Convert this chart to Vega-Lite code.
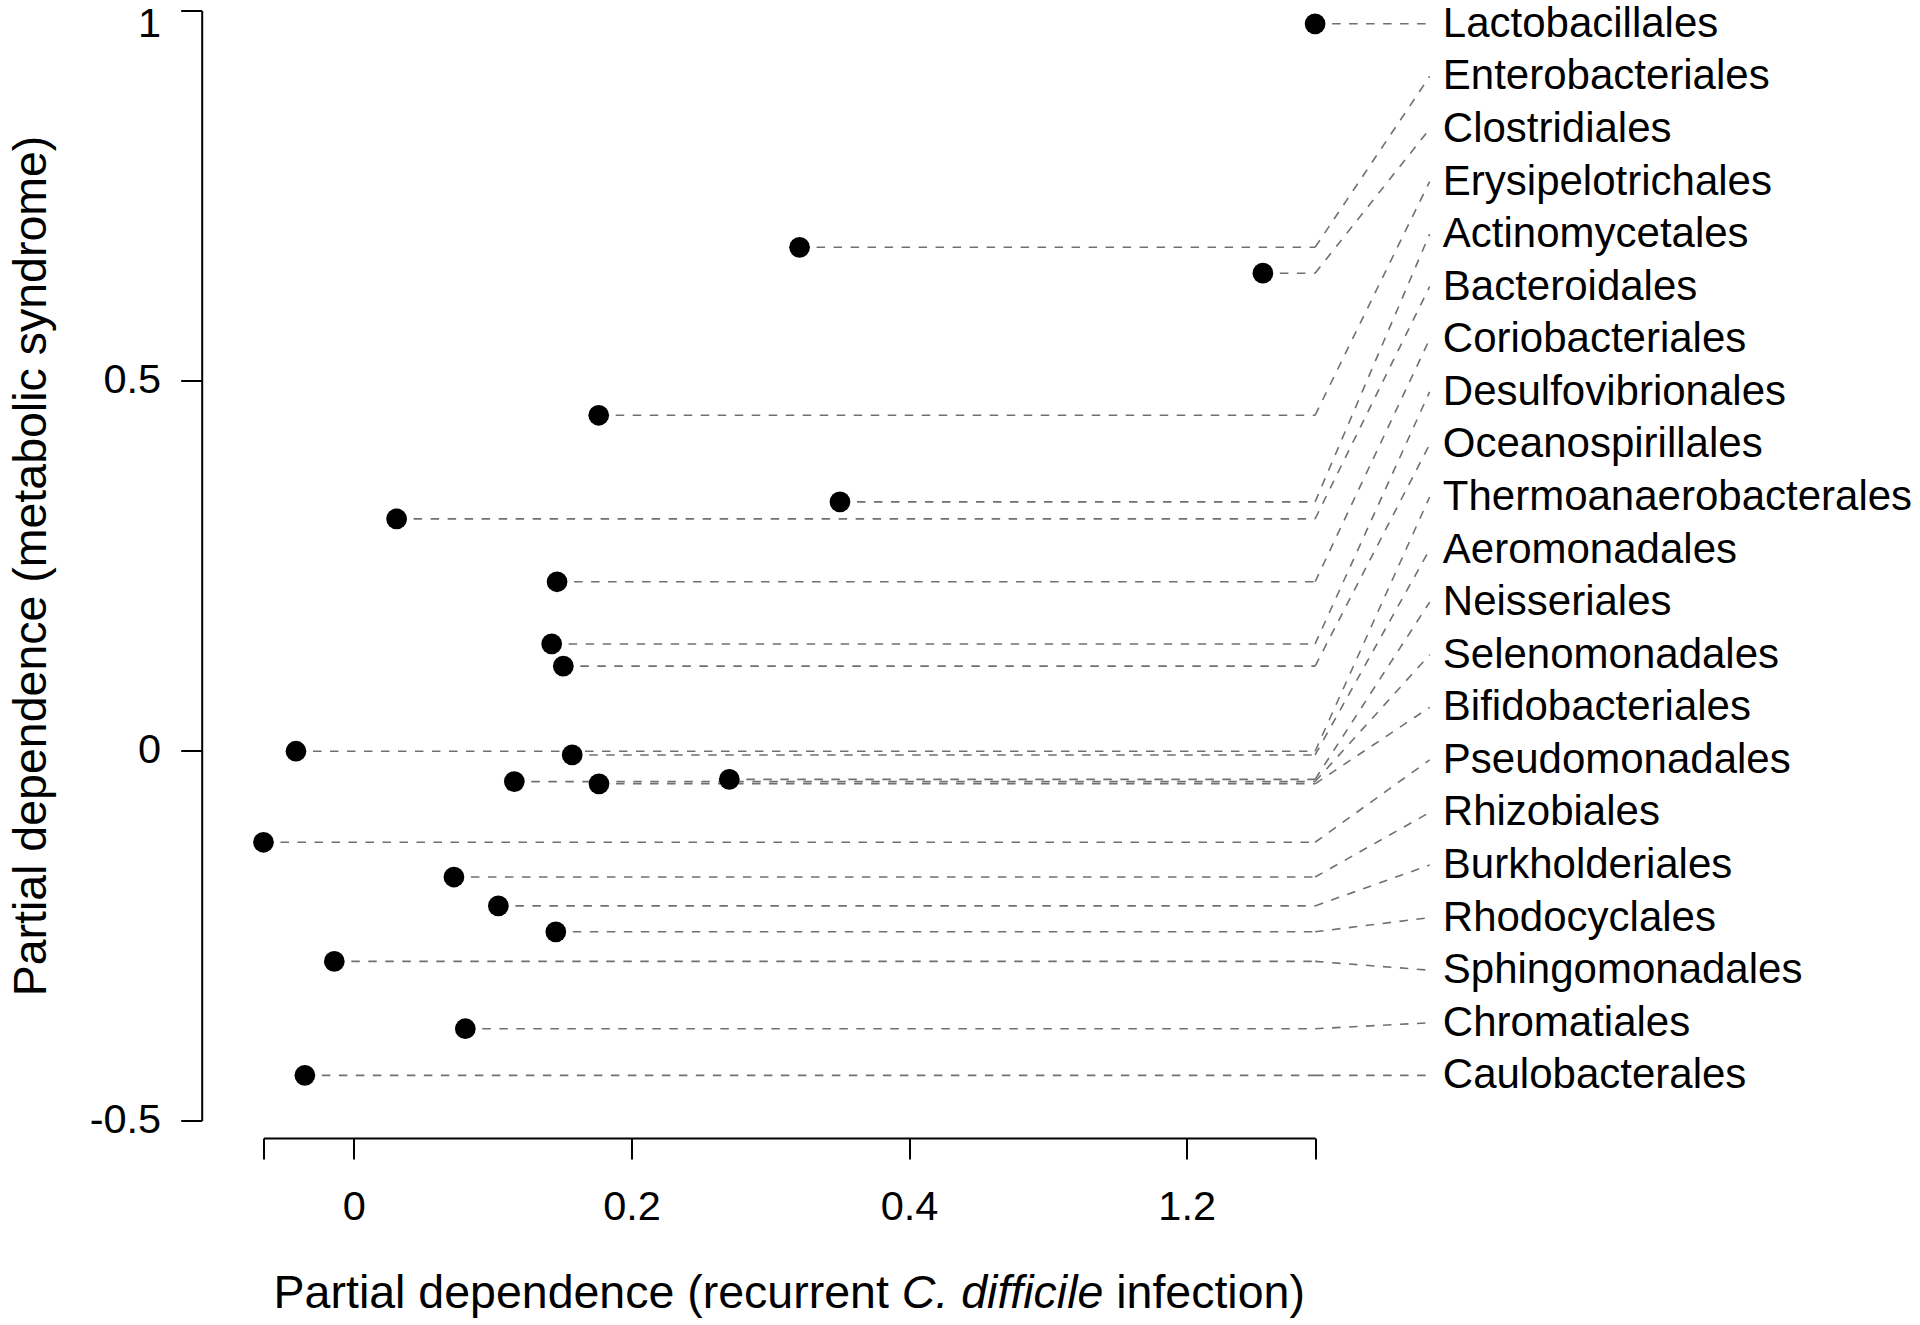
{
  "$schema": "https://vega.github.io/schema/vega-lite/v6.json",
  "width": 1051.6,
  "height": 1110,
  "autosize": {"type": "none"},
  "padding": {"left": 263.5, "top": 10.5, "right": 604.9, "bottom": 204.5},
  "background": "white",
  "config": {
    "view": {"stroke": null},
    "font": "Liberation Sans",
    "axis": {
      "grid": false,
      "domainColor": "black",
      "domainWidth": 2,
      "tickColor": "black",
      "tickWidth": 2,
      "tickSize": 21,
      "labelFont": "Liberation Sans",
      "labelFontSize": 41.5,
      "labelColor": "black",
      "titleFont": "Liberation Sans",
      "titleFontSize": 46.5,
      "titleFontWeight": "normal",
      "titleColor": "black"
    }
  },
  "layer": [
    {
      "data": {
        "values": [
          {"name": "Lactobacillales", "x": 1.2925, "y": 0.982},
          {"name": "Enterobacteriales", "x": 0.3211, "y": 0.680},
          {"name": "Clostridiales", "x": 1.2549, "y": 0.645},
          {"name": "Erysipelotrichales", "x": 0.1764, "y": 0.453},
          {"name": "Actinomycetales", "x": 0.3502, "y": 0.336},
          {"name": "Bacteroidales", "x": 0.0308, "y": 0.313},
          {"name": "Coriobacteriales", "x": 0.1464, "y": 0.228},
          {"name": "Desulfovibrionales", "x": 0.1425, "y": 0.144},
          {"name": "Oceanospirillales", "x": 0.1509, "y": 0.114},
          {"name": "Thermoanaerobacterales", "x": -0.0417, "y": -0.001},
          {"name": "Aeromonadales", "x": 0.1573, "y": -0.006},
          {"name": "Neisseriales", "x": 0.2705, "y": -0.039},
          {"name": "Selenomonadales", "x": 0.1156, "y": -0.042},
          {"name": "Bifidobacteriales", "x": 0.1766, "y": -0.045},
          {"name": "Pseudomonadales", "x": -0.0651, "y": -0.124},
          {"name": "Rhizobiales", "x": 0.0721, "y": -0.171},
          {"name": "Burkholderiales", "x": 0.1041, "y": -0.210},
          {"name": "Rhodocyclales", "x": 0.1455, "y": -0.245},
          {"name": "Sphingomonadales", "x": -0.0141, "y": -0.285},
          {"name": "Chromatiales", "x": 0.0803, "y": -0.376},
          {"name": "Caulobacterales", "x": -0.0353, "y": -0.439}
        ]
      },
      "transform": [
        {"joinaggregate": [
          {"op": "max", "field": "x", "as": "xmax"},
          {"op": "max", "field": "y", "as": "ymax"},
          {"op": "min", "field": "y", "as": "ymin"},
          {"op": "count", "as": "n"}
        ]},
        {"window": [{"op": "row_number", "as": "rank"}], "sort": [{"field": "y", "order": "descending"}]},
        {"calculate": "datum.ymax - (datum.rank - 1) * (datum.ymax - datum.ymin) / (datum.n - 1)", "as": "ly"}
      ],
      "encoding": {
        "x": {
          "field": "x",
          "type": "quantitative",
          "scale": {"type": "linear", "domain": [-0.0651, 0.4, 1.2, 1.2925], "range": [0, 645.6, 923.2, 1051.6], "nice": false, "zero": false},
          "axis": {
            "title": null,
            "orient": "bottom",
            "values": [-0.0651, 0, 0.2, 0.4, 1.2, 1.2925],
            "labelExpr": "datum.value < -0.01 || datum.value > 1.25 ? '' : toString(datum.value)",
            "offset": 17.5,
            "labelPadding": 27,
            "labelFlush": false,
            "labelOverlap": false
          }
        },
        "y": {
          "field": "y",
          "type": "quantitative",
          "scale": {"domain": [-0.5, 1], "nice": false, "zero": false},
          "axis": {
            "title": "Partial dependence (metabolic syndrome)",
            "orient": "left",
            "values": [-0.5, 0, 0.5, 1],
            "labelExpr": "toString(datum.value)",
            "offset": 61.8,
            "labelPadding": 20,
            "labelOffset": {"condition": {"test": "datum.value == 1", "value": 13.5}, "value": 0},
            "titlePadding": 34,
            "labelFlush": false
          }
        }
      },
      "layer": [
        {
          "mark": {"type": "rule", "color": "#707070", "strokeWidth": 1.6, "strokeDash": [8.5, 8.5]},
          "encoding": {
            "x2": {"field": "xmax"}
          }
        },
        {
          "mark": {"type": "rule", "color": "#707070", "strokeWidth": 1.6, "strokeDash": [8.5, 8.5]},
          "encoding": {
            "x": {"field": "xmax", "type": "quantitative"},
            "x2": {"datum": 1.375},
            "y2": {"field": "ly"}
          }
        },
        {
          "mark": {"type": "circle", "color": "black", "opacity": 1, "size": 430}
        },
        {
          "mark": {"type": "text", "align": "left", "baseline": "middle", "fontSize": 42, "font": "Liberation Sans", "color": "black"},
          "encoding": {
            "x": {"datum": 1.3845},
            "y": {"field": "ly", "type": "quantitative"},
            "text": {"field": "name"}
          }
        }
      ]
    },
    {
      "data": {"values": [{"part": "x title"}]},
      "encoding": {
        "x": {"datum": 0.3137},
        "y": {"datum": -0.754}
      },
      "layer": [
        {"mark": {"type": "text", "align": "right", "baseline": "alphabetic", "dx": 99.5, "fontSize": 46.5, "font": "Liberation Sans", "color": "black"}, "encoding": {"text": {"value": "Partial dependence (recurrent"}}},
        {"mark": {"type": "text", "align": "left", "baseline": "alphabetic", "dx": 112.5, "fontSize": 46.5, "font": "Liberation Sans", "fontStyle": "italic", "color": "black"}, "encoding": {"text": {"value": "C. difficile"}}},
        {"mark": {"type": "text", "align": "left", "baseline": "alphabetic", "dx": 326.9, "fontSize": 46.5, "font": "Liberation Sans", "color": "black"}, "encoding": {"text": {"value": "infection)"}}}
      ]
    }
  ]
}
